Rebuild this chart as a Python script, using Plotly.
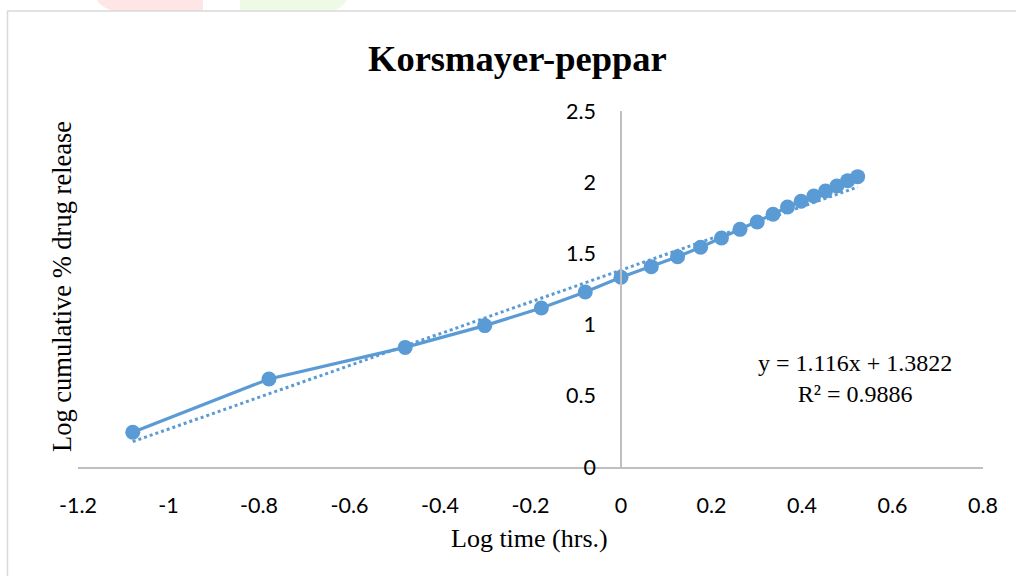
import plotly.graph_objects as go

# ---- data ----
log_time = [-1.079, -0.778, -0.477, -0.301, -0.176, -0.079, 0.000, 0.067, 0.125,
            0.176, 0.222, 0.263, 0.301, 0.336, 0.368, 0.398, 0.426, 0.452, 0.477,
            0.501, 0.523]
log_release = [0.244, 0.618, 0.840, 0.993, 1.117, 1.229, 1.332, 1.407, 1.477,
               1.543, 1.608, 1.669, 1.720, 1.775, 1.826, 1.866, 1.903, 1.938, 1.973,
               2.011, 2.039]
trend_slope = 1.116
trend_intercept = 1.3822
x_ticks = [-1.2, -1, -0.8, -0.6, -0.4, -0.2, 0, 0.2, 0.4, 0.6, 0.8]
y_ticks = [0, 0.5, 1, 1.5, 2, 2.5]
title_text = "Korsmayer-peppar"
x_title = "Log time (hrs.)"
y_title = "Log cumulative % drug release"
eq_text = "y = 1.116x + 1.3822<br>R² = 0.9886"

# ---- layout geometry (pixels) ----
W, H = 1016, 576
ML, MR, MT, MB = 78, 33, 111, 109
PW, PH = W - ML - MR, H - MT - MB


def px(xpix):
    return (xpix - ML) / PW


def py(ypix):
    return (H - MB - ypix) / PH


BLUE = "#5B9BD5"
AXIS = "#BFBFBF"

trend_x = [log_time[0], log_time[-1]]
trend_y = [trend_slope * v + trend_intercept for v in trend_x]

fig = go.Figure()
fig.add_trace(go.Scatter(
    x=trend_x, y=trend_y, mode="lines",
    line=dict(color=BLUE, width=3, dash="dot"),
    hoverinfo="skip", showlegend=False))
fig.add_trace(go.Scatter(
    x=log_time, y=log_release, mode="lines+markers",
    line=dict(color=BLUE, width=3.2),
    marker=dict(color=BLUE, size=15),
    showlegend=False))

fig.update_layout(
    width=W, height=H,
    margin=dict(l=ML, r=MR, t=MT, b=MB),
    paper_bgcolor="white", plot_bgcolor="white",
    xaxis=dict(
        range=[-1.2, 0.8], tickvals=x_ticks,
        ticktext=[f"{v:g}" for v in x_ticks],
        showgrid=False, zeroline=False,
        showline=True, linecolor=AXIS, linewidth=1.5,
        ticks="", ticklabelstandoff=18,
        tickfont=dict(family="Lato", size=21.5, color="#000000"),
    ),
    yaxis=dict(
        range=[0, 2.5], tickvals=y_ticks,
        ticktext=[f"{v:g}" for v in y_ticks],
        showgrid=False, zeroline=False,
        showline=True, linecolor=AXIS, linewidth=1.5,
        anchor="free", position=px(ML + 1.2 * PW / 2.0),
        ticks="", ticklabelstandoff=20,
        tickfont=dict(family="Lato", size=21.5, color="#000000"),
    ),
    annotations=[
        dict(text="<b>" + title_text + "</b>", xref="paper", yref="paper",
             x=px(517), y=py(58), xanchor="center", yanchor="middle",
             showarrow=False,
             font=dict(family="Liberation Serif", size=36.5, color="#000000")),
        dict(text=x_title, xref="paper", yref="paper",
             x=px(529), y=py(538), xanchor="center", yanchor="middle",
             showarrow=False,
             font=dict(family="Liberation Serif", size=26, color="#000000")),
        dict(text=y_title, xref="paper", yref="paper", textangle=-90,
             x=px(62), y=py(287), xanchor="center", yanchor="middle",
             showarrow=False,
             font=dict(family="Liberation Serif", size=26.5, color="#000000")),
        dict(text=eq_text, xref="paper", yref="paper",
             x=px(855), y=py(378), xanchor="center", yanchor="middle",
             showarrow=False, align="center",
             font=dict(family="Liberation Serif", size=24, color="#000000")),
    ],
    shapes=[
        # faint watermark shapes at top
        dict(type="path", xref="paper", yref="paper",
             path=f"M {px(97)} {py(0)} L {px(203)} {py(0)} L {px(203)} {py(11)} "
                  f"L {px(112)} {py(11)} Q {px(100)} {py(6)} {px(97)} {py(0)} Z",
             fillcolor="#FFE6E6", line=dict(width=0), layer="below"),
        dict(type="path", xref="paper", yref="paper",
             path=f"M {px(240)} {py(0)} L {px(347)} {py(0)} Q {px(344)} {py(6)} "
                  f"{px(334)} {py(11)} L {px(240)} {py(11)} Z",
             fillcolor="#EEFAE6", line=dict(width=0), layer="below"),
        # chart border
        dict(type="line", xref="paper", yref="paper",
             x0=px(7), x1=px(1016), y0=py(11), y1=py(11),
             line=dict(color="#D9D9D9", width=1.5)),
        dict(type="line", xref="paper", yref="paper",
             x0=px(7.5), x1=px(7.5), y0=py(11), y1=py(576),
             line=dict(color="#D9D9D9", width=1.5)),
    ],
)

fig.write_html("out.html")
